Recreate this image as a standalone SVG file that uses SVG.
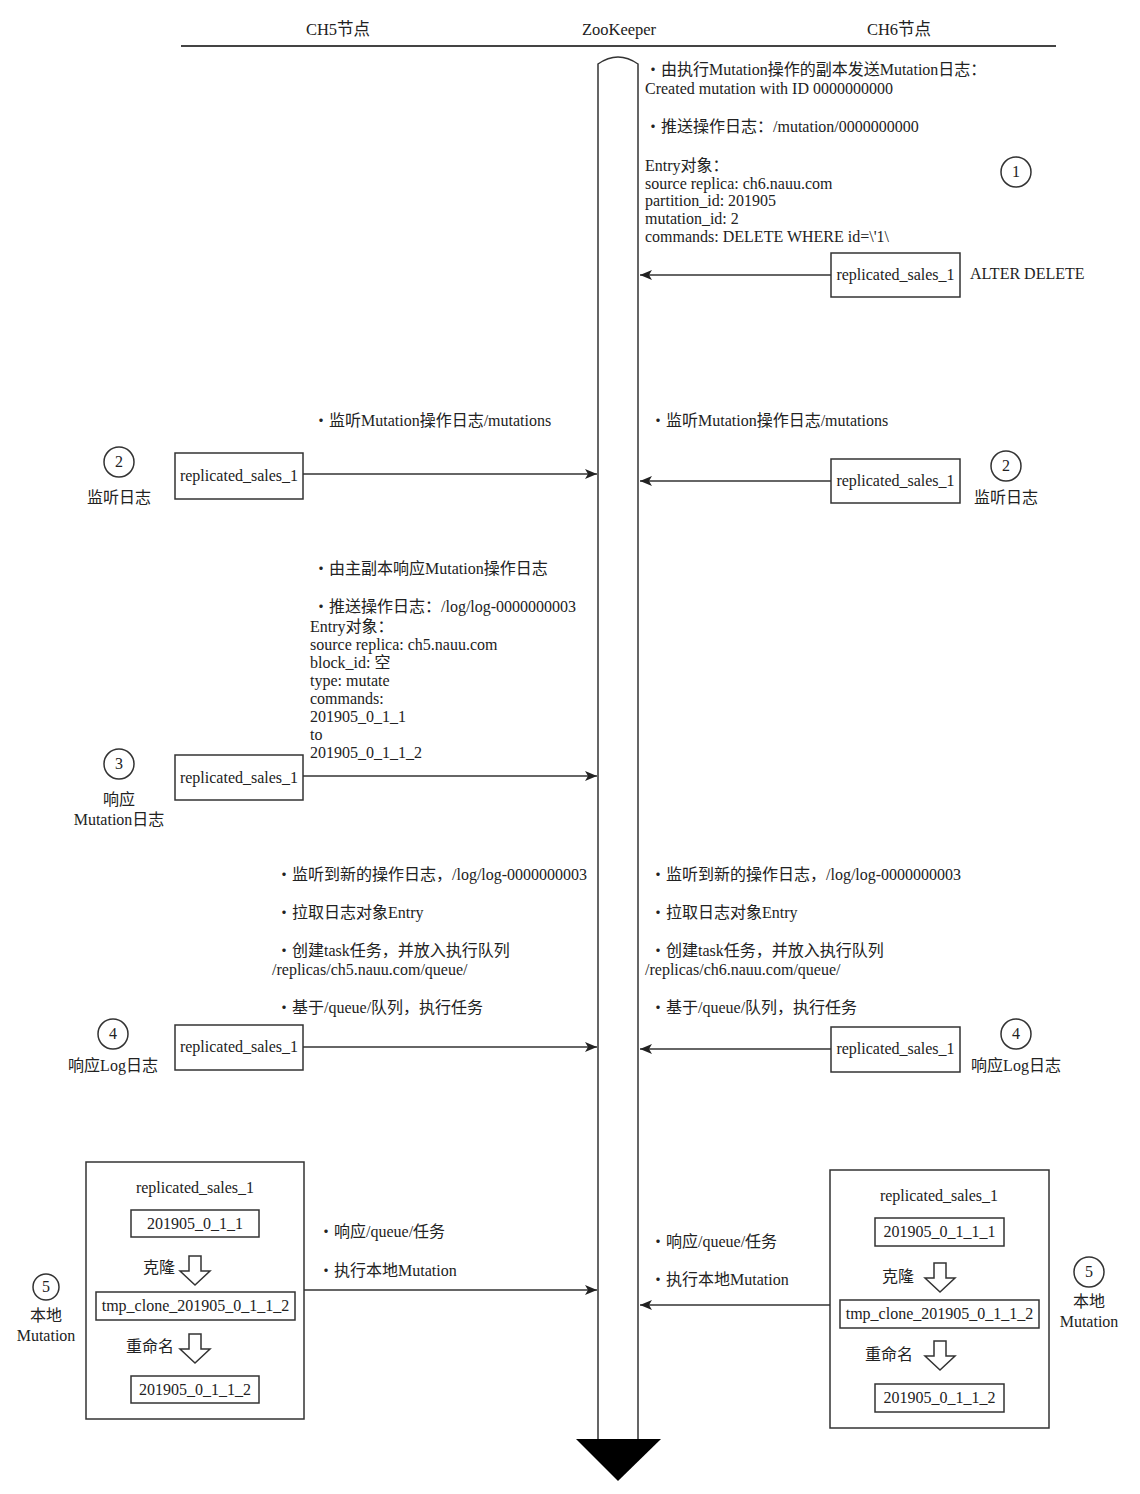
<svg xmlns="http://www.w3.org/2000/svg" width="1140" height="1494" viewBox="0 0 1140 1494">
<style>
text{font-family:"Liberation Serif","Noto Sans CJK SC",serif;font-size:16px;fill:#222}
.c{text-anchor:middle}
.h{font-size:16.5px}
.box{fill:#fff;stroke:#333;stroke-width:1.5}
.ln{stroke:#333;stroke-width:1.5;fill:none}
.circ{fill:#fff;stroke:#333;stroke-width:1.5}
.harr{fill:#fff;stroke:#333;stroke-width:1.5}
</style>
<defs>
<marker id="ah" markerWidth="12" markerHeight="10" refX="12" refY="5" orient="auto" markerUnits="userSpaceOnUse">
<path d="M0,0 L12,5 L0,10 L3,5 Z" fill="#222"/>
</marker>
</defs>
<rect width="1140" height="1494" fill="#fff"/>

<g id="header">
<text class="c h" x="338" y="35">CH5节点</text>
<text class="c h" x="619" y="35">ZooKeeper</text>
<text class="c h" x="899" y="35">CH6节点</text>
<line x1="181" y1="46" x2="1056" y2="46" stroke="#444" stroke-width="2"/>
</g>

<g id="zookeeper">
<path class="ln" d="M598,1440 L598,64 Q618,50 638,64 L638,1440"/>
<polygon points="576,1439 661,1439 618,1481" fill="#000"/>
</g>

<g id="connectors">
<line class="ln" x1="831" y1="275" x2="640" y2="275" marker-end="url(#ah)"/>
<line class="ln" x1="303" y1="474" x2="597" y2="474" marker-end="url(#ah)"/>
<line class="ln" x1="831" y1="481" x2="640" y2="481" marker-end="url(#ah)"/>
<line class="ln" x1="303" y1="776" x2="597" y2="776" marker-end="url(#ah)"/>
<line class="ln" x1="303" y1="1047" x2="597" y2="1047" marker-end="url(#ah)"/>
<line class="ln" x1="831" y1="1049" x2="640" y2="1049" marker-end="url(#ah)"/>
<line class="ln" x1="304" y1="1290" x2="597" y2="1290" marker-end="url(#ah)"/>
<line class="ln" x1="830" y1="1305" x2="640" y2="1305" marker-end="url(#ah)"/>
</g>

<g id="step1-text">
<text x="645" y="75">・由执行Mutation操作的副本发送Mutation日志：</text>
<text x="645" y="94">Created mutation with ID 0000000000</text>
<text x="645" y="132">・推送操作日志：/mutation/0000000000</text>
<text x="645" y="171">Entry对象：</text>
<text x="645" y="189">source replica: ch6.nauu.com</text>
<text x="645" y="206">partition_id: 201905</text>
<text x="645" y="224">mutation_id: 2</text>
<text x="645" y="242">commands: DELETE WHERE id=\'1\</text>
</g>
<g id="step1">
<circle class="circ" cx="1016" cy="172" r="15"/>
<text class="c" x="1016" y="177">1</text>
<rect class="box" x="831" y="253" width="129" height="44"/>
<text class="c" x="895.5" y="280">replicated_sales_1</text>
<text x="970" y="279">ALTER DELETE</text>
</g>

<g id="step2-left">
<text x="313" y="426">・监听Mutation操作日志/mutations</text>
<circle class="circ" cx="119" cy="462" r="15"/>
<text class="c" x="119" y="467">2</text>
<text class="c" x="119" y="503">监听日志</text>
<rect class="box" x="175" y="453" width="128" height="46"/>
<text class="c" x="239" y="481">replicated_sales_1</text>
</g>
<g id="step2-right">
<text x="650" y="426">・监听Mutation操作日志/mutations</text>
<rect class="box" x="831" y="459" width="129" height="44"/>
<text class="c" x="895.5" y="486">replicated_sales_1</text>
<circle class="circ" cx="1006" cy="466" r="15"/>
<text class="c" x="1006" y="471">2</text>
<text class="c" x="1006" y="503">监听日志</text>
</g>

<g id="step3">
<text x="313" y="574">・由主副本响应Mutation操作日志</text>
<text x="313" y="612">・推送操作日志：/log/log-0000000003</text>
<text x="310" y="632">Entry对象：</text>
<text x="310" y="650">source replica: ch5.nauu.com</text>
<text x="310" y="668">block_id: 空</text>
<text x="310" y="686">type: mutate</text>
<text x="310" y="704">commands:</text>
<text x="310" y="722">201905_0_1_1</text>
<text x="310" y="740">to</text>
<text x="310" y="758">201905_0_1_1_2</text>
<circle class="circ" cx="119" cy="764" r="15"/>
<text class="c" x="119" y="769">3</text>
<text class="c" x="119" y="805">响应</text>
<text class="c" x="119" y="825">Mutation日志</text>
<rect class="box" x="175" y="755" width="128" height="45"/>
<text class="c" x="239" y="783">replicated_sales_1</text>
</g>

<g id="step4-left">
<text x="276" y="880">・监听到新的操作日志，/log/log-0000000003</text>
<text x="276" y="918">・拉取日志对象Entry</text>
<text x="276" y="956">・创建task任务，并放入执行队列</text>
<text x="272" y="975">/replicas/ch5.nauu.com/queue/</text>
<text x="276" y="1013">・基于/queue/队列，执行任务</text>
<circle class="circ" cx="113" cy="1034" r="15"/>
<text class="c" x="113" y="1039">4</text>
<text class="c" x="113" y="1071">响应Log日志</text>
<rect class="box" x="175" y="1025" width="128" height="45"/>
<text class="c" x="239" y="1052">replicated_sales_1</text>
</g>
<g id="step4-right">
<text x="650" y="880">・监听到新的操作日志，/log/log-0000000003</text>
<text x="650" y="918">・拉取日志对象Entry</text>
<text x="650" y="956">・创建task任务，并放入执行队列</text>
<text x="645" y="975">/replicas/ch6.nauu.com/queue/</text>
<text x="650" y="1013">・基于/queue/队列，执行任务</text>
<rect class="box" x="831" y="1027" width="129" height="45"/>
<text class="c" x="895.5" y="1054">replicated_sales_1</text>
<circle class="circ" cx="1016" cy="1034" r="15"/>
<text class="c" x="1016" y="1039">4</text>
<text class="c" x="1016" y="1071">响应Log日志</text>
</g>

<g id="step5-left">
<rect class="box" x="86" y="1162" width="218" height="257"/>
<text class="c" x="195" y="1193">replicated_sales_1</text>
<rect class="box" x="131" y="1210" width="128" height="27"/>
<text class="c" x="195" y="1229">201905_0_1_1</text>
<text x="143" y="1273">克隆</text>
<path class="harr" d="M189,1256 L201,1256 L201,1271 L210,1271 L195,1285 L180,1271 L189,1271 Z"/>
<rect class="box" x="96" y="1292" width="199" height="28"/>
<text class="c" x="195.5" y="1311">tmp_clone_201905_0_1_1_2</text>
<text x="126" y="1352">重命名</text>
<path class="harr" d="M189,1334 L201,1334 L201,1349 L210,1349 L195,1363 L180,1349 L189,1349 Z"/>
<rect class="box" x="131" y="1376" width="128" height="27"/>
<text class="c" x="195" y="1395">201905_0_1_1_2</text>
<circle class="circ" cx="46" cy="1287" r="13"/>
<text class="c" x="46" y="1292">5</text>
<text class="c" x="46" y="1321">本地</text>
<text class="c" x="46" y="1341">Mutation</text>
<text x="318" y="1237">・响应/queue/任务</text>
<text x="318" y="1276">・执行本地Mutation</text>
</g>

<g id="step5-right">
<rect class="box" x="830" y="1170" width="219" height="258"/>
<text class="c" x="939" y="1201">replicated_sales_1</text>
<rect class="box" x="875" y="1218" width="129" height="28"/>
<text class="c" x="939.5" y="1237">201905_0_1_1_1</text>
<text x="882" y="1282">克隆</text>
<path class="harr" d="M934,1263 L946,1263 L946,1278 L955,1278 L940,1292 L925,1278 L934,1278 Z"/>
<rect class="box" x="840" y="1300" width="199" height="28"/>
<text class="c" x="939.5" y="1319">tmp_clone_201905_0_1_1_2</text>
<text x="865" y="1360">重命名</text>
<path class="harr" d="M934,1341 L946,1341 L946,1356 L955,1356 L940,1370 L925,1356 L934,1356 Z"/>
<rect class="box" x="875" y="1384" width="129" height="28"/>
<text class="c" x="939.5" y="1403">201905_0_1_1_2</text>
<circle class="circ" cx="1089" cy="1272" r="15"/>
<text class="c" x="1089" y="1277">5</text>
<text class="c" x="1089" y="1307">本地</text>
<text class="c" x="1089" y="1327">Mutation</text>
<text x="650" y="1247">・响应/queue/任务</text>
<text x="650" y="1285">・执行本地Mutation</text>
</g>
</svg>
